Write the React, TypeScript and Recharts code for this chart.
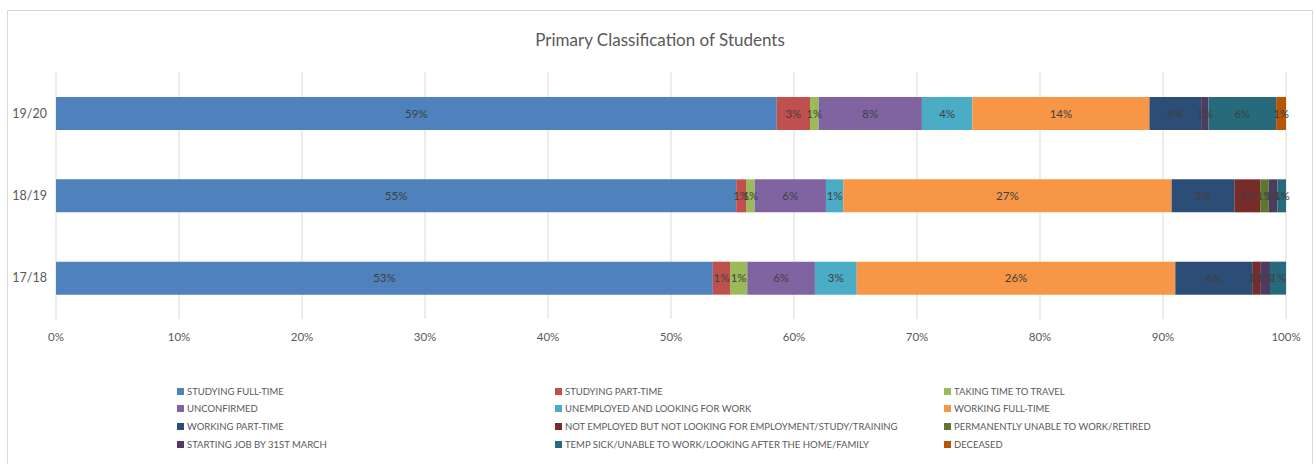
import React from 'react';
import { BarChart, Bar, XAxis, YAxis, CartesianGrid, LabelList } from 'recharts';

const years = ['19/20', '18/19', '17/18'];

const studyingFullTime = [58.6, 55.3, 53.4];
const studyingPartTime = [2.7, 0.8, 1.4];
const takingTimeToTravel = [0.7, 0.7, 1.4];
const unconfirmed = [8.4, 5.8, 5.5];
const unemployedLooking = [4.1, 1.4, 3.4];
const workingFullTime = [14.4, 26.7, 25.9];
const workingPartTime = [4.2, 5.1, 6.3];
const notEmployedNotLooking = [0, 2.1, 0.6];
const permanentlyUnable = [0, 0.7, 0];
const startingJob = [0.6, 0.7, 0.8];
const tempSick = [5.5, 0.7, 1.3];
const deceased = [0.8, 0, 0];

const xTicks = [0, 0.1, 0.2, 0.3, 0.4, 0.5, 0.6, 0.7, 0.8, 0.9, 1];

const series = [
  { key: 'sft', name: 'STUDYING FULL-TIME', color: '#4F81BD', values: studyingFullTime },
  { key: 'spt', name: 'STUDYING PART-TIME', color: '#C0504D', values: studyingPartTime },
  { key: 'travel', name: 'TAKING TIME TO TRAVEL', color: '#9BBB59', values: takingTimeToTravel },
  { key: 'unconf', name: 'UNCONFIRMED', color: '#8064A2', values: unconfirmed },
  { key: 'unemp', name: 'UNEMPLOYED AND LOOKING FOR WORK', color: '#4BACC6', values: unemployedLooking },
  { key: 'wft', name: 'WORKING FULL-TIME', color: '#F79646', values: workingFullTime },
  { key: 'wpt', name: 'WORKING PART-TIME', color: '#2C4D75', values: workingPartTime },
  { key: 'notemp', name: 'NOT EMPLOYED BUT NOT LOOKING FOR EMPLOYMENT/STUDY/TRAINING', color: '#772C2A', values: notEmployedNotLooking },
  { key: 'perm', name: 'PERMANENTLY UNABLE TO WORK/RETIRED', color: '#5F7530', values: permanentlyUnable },
  { key: 'start', name: 'STARTING JOB BY 31ST MARCH', color: '#4D3B62', values: startingJob },
  { key: 'temp', name: 'TEMP SICK/UNABLE TO WORK/LOOKING AFTER THE HOME/FAMILY', color: '#276A7C', values: tempSick },
  { key: 'dec', name: 'DECEASED', color: '#B65708', values: deceased },
];

const data = years.map((year, i) => {
  const row: Record<string, any> = { year };
  series.forEach((s) => { row[s.key] = s.values[i]; });
  return row;
});

const FONT = 'Lato, sans-serif';
const legendCols = [177, 555, 944];

export default function App() {
  return (
    <div style={{ position: 'absolute', left: 0, top: 0, width: 1315, height: 464, overflow: 'hidden', background: '#fff', fontFamily: FONT }}>
      <div style={{ position: 'absolute', left: 7, top: 10, width: 1306, height: 470, border: '1px solid #D9D9D9', boxSizing: 'border-box' }} />
      <div style={{ position: 'absolute', left: 7, width: 1306, top: 29, textAlign: 'center', fontSize: 17, color: '#595959' }}>
        Primary Classification of Students
      </div>
      <div style={{ position: 'absolute', left: 0, top: 0 }}>
        <BarChart
          width={1315}
          height={349}
          data={data}
          layout="vertical"
          stackOffset="expand"
          barSize={33}
          margin={{ top: 72, right: 29, bottom: 0, left: 0 }}
        >
          <CartesianGrid vertical horizontal={false} stroke="#D9D9D9" />
          <XAxis
            type="number"
            domain={[0, 1]}
            ticks={xTicks}
            tickFormatter={(v) => `${Math.round(v * 100)}%`}
            axisLine={false}
            tickLine={false}
            tickSize={6}
            tickMargin={8}
            height={30}
            tick={{ fill: '#595959', fontSize: 11.5, fontFamily: FONT }}
          />
          <YAxis
            type="category"
            dataKey="year"
            width={56}
            axisLine={false}
            tickLine={false}
            tickSize={6}
            tickMargin={3}
            tick={{ fill: '#595959', fontSize: 12.5, fontFamily: FONT }}
          />
          {series.map((s) => (
            <Bar key={s.key} dataKey={s.key} name={s.name} stackId="a" fill={s.color} isAnimationActive={false}>
              <LabelList
                dataKey={s.key}
                position="center"
                fill="#404040"
                fontSize={11.5}
                fontFamily={FONT}
                formatter={(v: any) => (v ? `${Math.round(Number(v))}%` : '')}
              />
            </Bar>
          ))}
        </BarChart>
      </div>
      {series.map((s, i) => {
        const col = i % 3;
        const row = Math.floor(i / 3);
        return (
          <div
            key={s.key}
            style={{
              position: 'absolute',
              left: legendCols[col],
              top: 382.5 + row * 17.6,
              height: 17.6,
              display: 'flex',
              alignItems: 'center',
              fontSize: 9.5,
              color: '#595959',
              whiteSpace: 'nowrap',
            }}
          >
            <span style={{ display: 'inline-block', width: 7, height: 7, background: s.color, marginRight: 3 }} />
            {s.name}
          </div>
        );
      })}
    </div>
  );
}
